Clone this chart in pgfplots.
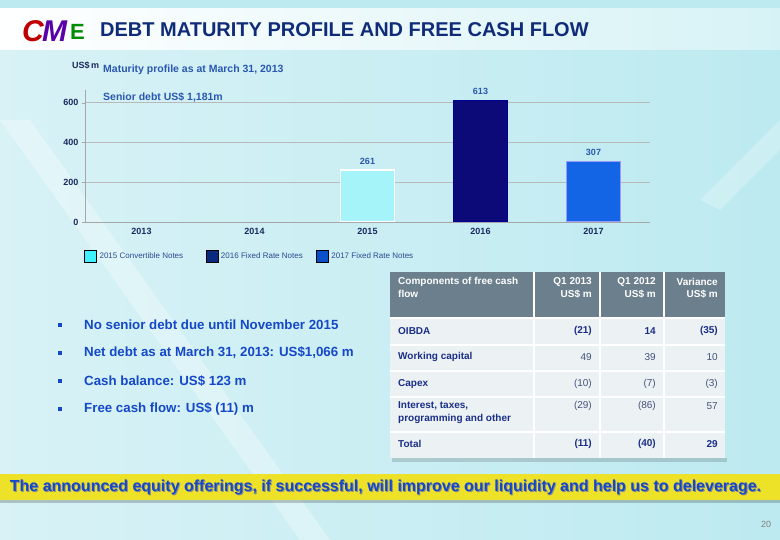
\documentclass[border=0pt]{standalone}
\usepackage{pgfplots}
\pgfplotsset{compat=1.18}
\usepackage{fontspec}
\setmainfont{Liberation Sans}
\newcommand\fs[1]{\fontsize{#1}{#1}\selectfont}
\definecolor{titleblue}{HTML}{102C78}
\definecolor{chartblue}{HTML}{2A58B0}
\definecolor{tickcol}{HTML}{1A2A60}
\definecolor{bulletblue}{HTML}{1448C8}
\definecolor{hdrgray}{HTML}{6B7F8C}
\definecolor{rowbg}{HTML}{ECF2F4}
\definecolor{navy}{HTML}{1A2E88}
\definecolor{valgray}{HTML}{44507A}
\definecolor{bannery}{HTML}{EEE229}
\definecolor{barA}{HTML}{A4F4FA}
\definecolor{barB}{HTML}{0C0A78}
\definecolor{barC}{HTML}{1464E6}
\definecolor{legA}{HTML}{40F2FF}
\definecolor{legB}{HTML}{0A2A80}
\definecolor{legC}{HTML}{0A50C8}
\definecolor{legtext}{HTML}{2A4A90}
\definecolor{bgL}{HTML}{D8F2F6}
\definecolor{bgR}{HTML}{BCEAF0}
\begin{document}
\begin{tikzpicture}
\begin{scope}[x=1pt,y=-1pt,shift={(0pt,540pt)}]
\useasboundingbox (0,0) rectangle (780,540);
% background
\shade[left color=bgL, right color=bgR] (0,0) rectangle (780,540);
\fill[white,opacity=0.3] (0,120) -- (300,540) -- (330,540) -- (30,120) -- cycle;
\fill[white,opacity=0.25] (700,200) -- (780,120) -- (780,150) -- (720,210) -- cycle;
% header band
\shade[left color=white, right color=bgR!60!white] (0,8) rectangle (780,50);
\fill[bgR] (0,0) rectangle (780,8);
% logo
\node[anchor=west,inner sep=0pt,font=\bfseries\itshape\fs{30},text=red!75!black] at (22,31) {C};
\node[anchor=west,inner sep=0pt,font=\bfseries\itshape\fs{30},text=violet!70!blue] at (42,31) {M};
\node[anchor=west,inner sep=0pt,font=\bfseries\fs{22},text=green!55!black] at (70,32) {E};
% title
\node[anchor=west,inner sep=0pt,font=\bfseries\fs{20},text=titleblue] at (100,30) {DEBT MATURITY PROFILE AND FREE CASH FLOW};
% chart texts
\node[anchor=west,inner sep=0pt,font=\bfseries\fs{9},text=tickcol] at (72,66) {US\$\,m};
\node[anchor=west,inner sep=0pt,font=\bfseries\fs{10.5},text=chartblue] at (103,70) {Maturity profile as at March 31, 2013};
\node[anchor=west,inner sep=0pt,font=\bfseries\fs{10.5},text=chartblue] at (103,97) {Senior debt US\$ 1,181m};
% bullets
\foreach \yy/\tt in {325/{No senior debt due until November 2015},353/{Net debt as at March 31, 2013: US\$1,066 m},381/{Cash balance: US\$ 123 m},409/{Free cash flow: US\$ (11) m}}{
  \fill[bulletblue] (58,\yy-2) rectangle (62,\yy+2);
  \node[anchor=west,inner sep=0pt,font=\bfseries\fs{13.3},text=bulletblue] at (84,\yy) {\tt};
}
% table
\fill[black,opacity=0.15] (392,458) rectangle (727,462);
\fill[hdrgray] (390,272) rectangle (725,318);
\fill[rowbg] (390,318) rectangle (725,458);
\foreach \yy in {318,345,371,397,432}{\draw[white,line width=1.2pt] (390,\yy) -- (725,\yy);}
\foreach \xx in {534,600,664}{\draw[white,line width=1.2pt] (\xx,272) -- (\xx,458);}
\begin{scope}[every node/.style={inner sep=0pt,font=\bfseries\fs{10},text=white}]
\node[anchor=west] at (398,282) {Components of free cash};
\node[anchor=west] at (398,294) {flow};
\node[anchor=east] at (592,282) {Q1 2013};
\node[anchor=east] at (592,294) {US\$ m};
\node[anchor=east] at (656,282) {Q1 2012};
\node[anchor=east] at (656,294) {US\$ m};
\node[anchor=east] at (718,282) {Variance};
\node[anchor=east] at (718,294) {US\$ m};
\end{scope}
\begin{scope}[every node/.style={inner sep=0pt,font=\bfseries\fs{10},text=navy}]
\node[anchor=west] at (398,331) {OIBDA};
\node[anchor=west] at (398,357) {Working capital};
\node[anchor=west] at (398,384) {Capex};
\node[anchor=west] at (398,406) {Interest, taxes,};
\node[anchor=west] at (398,419) {programming and other};
\node[anchor=west] at (398,444) {Total};
\node[anchor=east] at (592,331) {(21)};
\node[anchor=east] at (656,331) {14};
\node[anchor=east] at (718,331) {(35)};
\node[anchor=east] at (592,444) {(11)};
\node[anchor=east] at (656,444) {(40)};
\node[anchor=east] at (718,444) {29};
\end{scope}
\begin{scope}[every node/.style={inner sep=0pt,font=\fs{10},text=valgray}]
\node[anchor=east] at (592,357) {49};
\node[anchor=east] at (656,357) {39};
\node[anchor=east] at (718,357) {10};
\node[anchor=east] at (592,384) {(10)};
\node[anchor=east] at (656,384) {(7)};
\node[anchor=east] at (718,384) {(3)};
\node[anchor=east] at (592,406) {(29)};
\node[anchor=east] at (656,406) {(86)};
\node[anchor=east] at (718,406) {57};
\end{scope}
% banner
\fill[black,opacity=0.2] (0,500) rectangle (780,503);
\fill[bannery] (0,474) rectangle (780,500);
\node[inner sep=0pt,font=\bfseries\fs{16},text=black!45] at (386.5,488) {The announced equity offerings, if successful, will improve our liquidity and help us to deleverage.};
\node[inner sep=0pt,font=\bfseries\fs{16},text=bulletblue] at (385.5,487) {The announced equity offerings, if successful, will improve our liquidity and help us to deleverage.};
% page number
\node[inner sep=0pt,font=\fs{9},text=black!50] at (766,524) {20};
\end{scope}
\begin{axis}[
  at={(85pt,318pt)}, anchor=south west,
  scale only axis, width=565pt, height=132pt,
  xmin=-0.5, xmax=4.5, ymin=0, ymax=665,
  ybar, bar width=54pt,
  axis x line*=bottom, axis y line*=left,
  axis line style={draw=gray!70},
  xtick={0,1,2,3,4}, xticklabels={2013,2014,2015,2016,2017},
  xtick style={draw=none},
  extra x ticks={-0.5,0.5,1.5,2.5,3.5,4.5}, extra x tick labels={},
  extra x tick style={tick align=outside, major tick length=3pt, tick style={draw=gray!70}, grid=none},
  ytick={0,200,400,600},
  ytick style={draw=gray!70}, tick align=outside, major tick length=3pt,
  ymajorgrids, grid style={draw=gray!55, line width=0.8pt},
  /pgf/number format/assume math mode=true,
  ticklabel style={font=\bfseries\fs{9}, text=tickcol},
  nodes near coords, every node near coord/.append style={font=\bfseries\fs{9}, text=chartblue, yshift=2pt},
  legend style={at={(-1pt,-0.258)}, anchor=west, draw=none, fill=none, inner sep=0pt,
    font=\fs{8}, text=legtext, /tikz/every even column/.append style={column sep=0pt}},
  legend columns=-1,
  legend image code/.code={\fill[#1] (0pt,-6pt) rectangle (12pt,6pt); \path (13pt,0pt);},
]
\addplot[bar shift=0pt, fill=barA, draw=white, line width=1.5pt, forget plot] coordinates {(2,261)};
\addplot[bar shift=0pt, fill=barB, draw=blue!60!black, line width=1pt, forget plot] coordinates {(3,613)};
\addplot[bar shift=0pt, fill=barC, draw=blue!40!white, line width=1pt, forget plot] coordinates {(4,307)};
\addlegendimage{fill=legA}
\addlegendentry{\makebox[104pt][l]{2015 Convertible Notes}}
\addlegendimage{fill=legB}
\addlegendentry{\makebox[93pt][l]{2016 Fixed Rate Notes}}
\addlegendimage{fill=legC}
\addlegendentry{2017 Fixed Rate Notes}
\end{axis}
\end{tikzpicture}
\end{document}
